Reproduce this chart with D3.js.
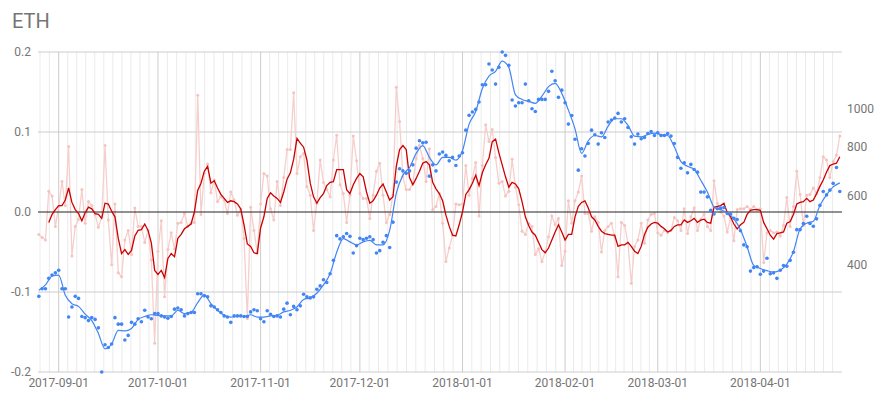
<!DOCTYPE html>
<html>
<head>
<meta charset="utf-8">
<script src="https://cdn.jsdelivr.net/npm/d3@7"></script>
<style>
  body { margin: 0; background: #fff; }
  text { font-family: Roboto, "Noto Sans", sans-serif; }
</style>
</head>
<body>
<svg id="chart" width="887" height="398"></svg>
<script>

// Daily series, first day 2017-08-26
var startDay = "2017-08-26";

// ETH close (right axis, log)
var price = [
  332, 347, 347, 369, 376, 381, 387, 347, 347, 294, 312, 332, 328, 295, 293, 288, 293, 290, 276, 213,
  250, 246, 251, 293, 282, 282, 257, 264, 285, 282, 291, 286, 306, 294, 291, 300, 300, 296, 294, 292,
  295, 308, 310, 307, 296, 300, 302, 302, 337, 337, 333, 331, 314, 312, 307, 302, 296, 294, 285, 296,
  296, 296, 295, 295, 303, 307, 305, 291, 286, 305, 299, 295, 296, 294, 308, 319, 298, 313, 307, 314,
  336, 331, 329, 331, 346, 353, 366, 360, 379, 410, 474, 465, 471, 480, 472, 428, 447, 467, 463, 467,
  471, 463, 428, 434, 456, 474, 442, 513, 649, 702, 693, 683, 693, 718, 792, 827, 817, 820, 672, 718,
  693, 765, 774, 759, 735, 750, 715, 756, 771, 880, 960, 979, 994, 1038, 1149, 1149, 1297, 1252, 1153, 1272,
  1392, 1365, 1287, 1050, 1014, 1034, 1034, 1153, 1046, 998, 982, 1054, 1054, 1054, 1105, 1243, 1176, 1067, 1113, 1034,
  912, 959, 834, 696, 789, 756, 814, 880, 857, 811, 867, 843, 923, 934, 945, 971, 923, 941, 894, 847,
  811, 860, 837, 843, 863, 873, 853, 867, 853, 853, 863, 850, 814, 750, 704, 727, 685, 720, 699, 688,
  612, 612, 595, 550, 538, 555, 557, 559, 540, 538, 525, 521, 488, 449, 444, 385, 393, 395, 378, 385,
  415, 379, 381, 369, 387, 398, 396, 410, 430, 491, 491, 509, 531, 509, 501, 523, 566, 614, 602, 619,
  644, 707, 614
];

// smoothed price, one point every 2 days from startDay
var trendStep = 2;
var priceTrend = [
  344, 355, 374, 376, 334, 318, 313, 299, 288, 267, 244, 251, 272, 271, 275, 290, 295, 298, 297, 296,
  296, 306, 300, 302, 320, 335, 318, 306, 297, 294, 295, 295, 298, 294, 294, 296, 297, 303, 306, 312,
  326, 329, 338, 355, 379, 430, 466, 457, 449, 457, 461, 449, 449, 489, 607, 676, 707, 768, 804, 750,
  718, 750, 750, 738, 780, 912, 982, 1124, 1209, 1242, 1320, 1272, 1083, 1054, 1042, 1030, 1075, 1136, 1158, 1092,
  990, 887, 768, 827, 853, 846, 901, 941, 941, 905, 850, 846, 858, 865, 858, 853, 798, 732, 712, 699,
  656, 612, 561, 552, 542, 523, 491, 444, 398, 391, 386, 383, 387, 401, 432, 493, 510, 516, 566, 602,
  631, 646
];

// daily signal (left axis)
var signal = [
  -0.028, -0.032, -0.035, 0.026, 0.020, -0.018, 0.007, 0.038, 0.008, 0.082,
  -0.055, -0.018, -0.009, 0.028, -0.014, 0.013, 0.008, -0.003, -0.019, -0.006,
  0.083, -0.010, -0.066, 0.010, -0.076, -0.081, -0.035, -0.023, -0.053, 0.005,
  -0.018, -0.018, -0.038, -0.023, -0.060, -0.164, -0.049, -0.011, -0.106, -0.047,
  -0.026, -0.046, -0.014, -0.013, -0.002, -0.018, -0.014, -0.013, 0.146, -0.003,
  0.048, 0.060, 0.024, 0.040, 0.013, 0.019, 0.015, -0.002, 0.025, 0.015,
  -0.004, 0.003, -0.033, -0.133, 0.006, -0.023, -0.051, 0.010, 0.048, 0.045,
  0.004, -0.010, 0.038, 0.008, 0.043, 0.078, 0.078, 0.149, 0.048, 0.069,
  0.073, 0.032, 0.021, -0.023, 0.011, 0.065, 0.037, 0.028, 0.019, 0.065,
  0.096, 0.034, 0.023, -0.013, 0.021, 0.095, 0.064, 0.023, 0.017, 0.017,
  -0.008, 0.021, 0.051, 0.061, 0.021, -0.013, -0.003, 0.021, 0.156, 0.113,
  0.044, 0.028, 0.028, 0.036, 0.067, 0.083, 0.067, 0.038, 0.079, 0.003,
  0.007, 0.023, -0.014, -0.062, -0.045, -0.029, 0.010, 0.009, 0.010, 0.058,
  0.021, 0.042, 0.062, -0.005, 0.058, 0.109, 0.088, 0.103, 0.068, 0.036,
  0.038, 0.020, 0.026, 0.066, 0.031, 0.009, -0.024, -0.028, -0.014, -0.018,
  -0.053, -0.046, -0.062, -0.050, -0.031, -0.005, -0.016, -0.008, -0.067, -0.049,
  0.014, -0.014, 0.014, 0.025, 0.045, -0.002, -0.002, -0.024, -0.006, -0.013,
  -0.050, -0.023, -0.018, -0.014, -0.031, -0.081, -0.013, -0.017, -0.039, -0.089,
  -0.043, -0.035, -0.014, -0.039, -0.010, -0.003, -0.002, -0.026, -0.029, -0.023,
  -0.026, -0.023, -0.007, -0.011, -0.023, 0.004, -0.027, -0.006, 0.005, -0.023,
  -0.009, -0.003, -0.018, -0.023, 0.039, 0.011, 0.000, -0.005, -0.025, -0.007,
  -0.036, 0.003, 0.004, 0.004, 0.007, 0.003, 0.007, 0.003, 0.004, -0.063,
  -0.026, -0.023, -0.026, -0.025, -0.030, -0.017, 0.018, -0.018, 0.007, 0.051,
  0.022, -0.017, 0.021, 0.022, 0.030, 0.023, 0.043, 0.069, 0.065, 0.043,
  0.063, 0.071, 0.095
];

// moving average of the signal, first day 2017-08-29
var avgStartDay = "2017-08-29";
var signalAvg = [
  -0.013, -0.003, 0.003, 0.008, 0.008, 0.015, 0.030, 0.012, 0.003, -0.002,
  -0.011, -0.001, 0.006, 0.004, -0.002, -0.003, -0.008, 0.011, 0.010, 0.001,
  -0.006, -0.033, -0.052, -0.047, -0.053, -0.048, -0.030, -0.023, -0.022, -0.015,
  -0.023, -0.039, -0.073, -0.078, -0.073, -0.082, -0.058, -0.052, -0.056, -0.033,
  -0.028, -0.021, -0.018, -0.015, 0.000, 0.027, 0.036, 0.051, 0.057, 0.036,
  0.039, 0.030, 0.022, 0.017, 0.012, 0.014, 0.013, 0.010, 0.004, -0.016,
  -0.040, -0.043, -0.051, -0.052, -0.020, -0.006, 0.017, 0.024, 0.020, 0.017,
  0.012, 0.025, 0.041, 0.049, 0.066, 0.092, 0.086, 0.081, 0.065, 0.036,
  0.019, 0.011, 0.018, 0.023, 0.033, 0.037, 0.038, 0.053, 0.053, 0.053,
  0.028, 0.023, 0.034, 0.042, 0.048, 0.044, 0.025, 0.011, 0.014, 0.021,
  0.030, 0.035, 0.025, 0.015, 0.019, 0.057, 0.078, 0.083, 0.078, 0.043,
  0.034, 0.042, 0.051, 0.061, 0.063, 0.059, 0.037, 0.029, 0.023, 0.014,
  -0.004, -0.018, -0.029, -0.030, -0.016, 0.000, 0.022, 0.028, 0.036, 0.046,
  0.033, 0.049, 0.059, 0.067, 0.088, 0.091, 0.074, 0.059, 0.044, 0.031,
  0.037, 0.035, 0.029, 0.013, -0.006, -0.017, -0.025, -0.029, -0.038, -0.047,
  -0.051, -0.045, -0.035, -0.025, -0.016, -0.025, -0.035, -0.028, -0.028, -0.006,
  0.007, 0.012, 0.014, 0.005, -0.006, -0.010, -0.018, -0.024, -0.027, -0.028,
  -0.029, -0.029, -0.043, -0.041, -0.041, -0.038, -0.043, -0.049, -0.052, -0.043,
  -0.028, -0.019, -0.015, -0.013, -0.014, -0.018, -0.021, -0.025, -0.023, -0.018,
  -0.016, -0.016, -0.010, -0.013, -0.011, -0.008, -0.013, -0.010, -0.009, -0.013,
  -0.014, 0.006, 0.007, 0.008, 0.011, -0.001, -0.006, -0.015, -0.021, -0.016,
  -0.013, -0.003, 0.002, 0.003, 0.003, 0.002, -0.013, -0.021, -0.029, -0.034,
  -0.027, -0.026, -0.025, -0.014, -0.012, -0.003, 0.010, 0.012, 0.013, 0.017,
  0.013, 0.015, 0.023, 0.032, 0.040, 0.050, 0.058, 0.060, 0.061, 0.069
];

var leftTicks = [-0.2, -0.1, 0.0, 0.1, 0.2];
var rightTicks = [400, 600, 800, 1000];

/////////// Layout ///////////

var width = 887, height = 398;
var plot = {left: 38, right: 842, top: 52, bottom: 372};

var parseDay = d3.utcParse("%Y-%m-%d");
var day0 = parseDay(startDay);
var avgDay0 = parseDay(avgStartDay);

function dayAt(base, i) { return d3.utcDay.offset(base, i); }

var priceData = price.map(function(v, i) { return {date: dayAt(day0, i), value: v}; });
var signalData = signal.map(function(v, i) { return {date: dayAt(day0, i), value: v}; });
var avgData = signalAvg.map(function(v, i) { return {date: dayAt(avgDay0, i), value: v}; });
var trendData = priceTrend.map(function(v, i) { return {date: dayAt(day0, i * trendStep), value: v}; });

var lastDay = priceData[priceData.length - 1].date;

var x = d3.scaleUtc()
  .domain([d3.utcHour.offset(day0, -6), d3.utcHour.offset(lastDay, 16)])
  .range([plot.left, plot.right]);

var yLeft = d3.scaleLinear().domain([-0.2, 0.2]).range([plot.bottom, plot.top]);
var yRight = d3.scaleLog().domain(d3.extent(price)).range([plot.bottom, plot.top]);

var svg = d3.select("#chart");

// title
svg.append("text")
  .attr("x", 12).attr("y", 28)
  .attr("fill", "#757575")
  .style("font-size", "20px")
  .text("ETH");

/////////// Grid ///////////

var grid = svg.append("g");
var months = d3.utcMonth.range(d3.utcMonth.floor(x.domain()[0]), d3.utcMonth.offset(x.domain()[1], 1));
months.push(d3.utcMonth.offset(months[months.length - 1], 1));

// minor lines: 10 between each month
for (var m = 0; m < months.length - 1; m++) {
  var a = x(months[m]), b = x(months[m + 1]);
  for (var k = 1; k < 11; k++) {
    var px = a + (b - a) * k / 11;
    if (px < plot.left + 1 || px > plot.right - 1) continue;
    grid.append("line")
      .attr("x1", px).attr("x2", px)
      .attr("y1", plot.top).attr("y2", plot.bottom)
      .attr("stroke", "#ebebeb").attr("stroke-width", 1);
  }
}

var monthTicks = months.filter(function(d) { return x(d) >= plot.left && x(d) <= plot.right; });

grid.selectAll(".vmajor")
  .data(monthTicks)
  .enter().append("line")
    .attr("x1", function(d) { return x(d); })
    .attr("x2", function(d) { return x(d); })
    .attr("y1", plot.top).attr("y2", plot.bottom)
    .attr("stroke", "#cccccc").attr("stroke-width", 1);

grid.selectAll(".hline")
  .data(leftTicks.filter(function(d) { return d !== 0; }))
  .enter().append("line")
    .attr("x1", plot.left).attr("x2", plot.right)
    .attr("y1", function(d) { return yLeft(d); })
    .attr("y2", function(d) { return yLeft(d); })
    .attr("stroke", "#cccccc").attr("stroke-width", 1);

/////////// Axes labels ///////////

svg.append("g").selectAll("text")
  .data(leftTicks)
  .enter().append("text")
    .attr("x", 31)
    .attr("y", function(d) { return yLeft(d); })
    .attr("dy", "0.35em")
    .attr("text-anchor", "end")
    .attr("fill", "#757575")
    .style("font-size", "12px")
    .text(function(d) { return d3.format(".1f")(d).replace("−", "-"); });

svg.append("g").selectAll("text")
  .data(rightTicks)
  .enter().append("text")
    .attr("x", 847)
    .attr("y", function(d) { return yRight(d); })
    .attr("dy", "0.35em")
    .attr("fill", "#757575")
    .style("font-size", "12px")
    .text(function(d) { return d; });

svg.append("g").selectAll("text")
  .data(monthTicks)
  .enter().append("text")
    .attr("x", function(d) { return x(d); })
    .attr("y", 387)
    .attr("text-anchor", "middle")
    .attr("fill", "#757575")
    .style("font-size", "12px")
    .text(function(d) { return d3.utcFormat("%Y-%m-%d")(d); });

/////////// Series ///////////

var signalLine = d3.line()
  .x(function(d) { return x(d.date); })
  .y(function(d) { return yLeft(d.value); });

svg.append("path")
  .datum(signalData)
  .attr("d", signalLine)
  .attr("fill", "none")
  .attr("stroke", "#f6cfcc")
  .attr("stroke-width", 1.3);

svg.append("g").selectAll("circle")
  .data(signalData)
  .enter().append("circle")
    .attr("cx", function(d) { return x(d.date); })
    .attr("cy", function(d) { return yLeft(d.value); })
    .attr("r", 1.5)
    .attr("fill", "#f4c4c0");

// baseline over the light series
svg.append("line")
  .attr("x1", plot.left).attr("x2", plot.right)
  .attr("y1", yLeft(0)).attr("y2", yLeft(0))
  .attr("stroke", "#222222").attr("stroke-width", 1);

svg.append("path")
  .datum(avgData)
  .attr("d", signalLine)
  .attr("fill", "none")
  .attr("stroke", "#cc0000")
  .attr("stroke-width", 1.3);

svg.append("g").selectAll("circle")
  .data(priceData)
  .enter().append("circle")
    .attr("cx", function(d) { return x(d.date); })
    .attr("cy", function(d) { return yRight(d.value); })
    .attr("r", 1.8)
    .attr("fill", "#4285f4");

svg.append("path")
  .datum(trendData)
  .attr("d", d3.line()
    .curve(d3.curveMonotoneX)
    .x(function(d) { return x(d.date); })
    .y(function(d) { return yRight(d.value); }))
  .attr("fill", "none")
  .attr("stroke", "#4285f4")
  .attr("stroke-width", 1.2);

</script>
</body>
</html>
